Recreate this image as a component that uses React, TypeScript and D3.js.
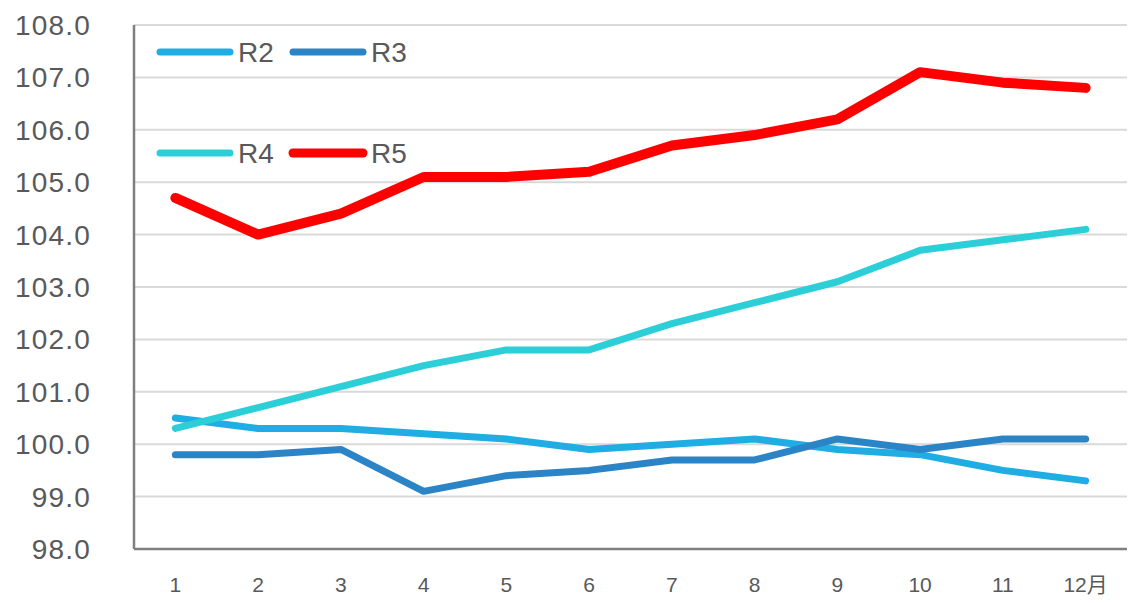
import { line, scaleBand, scaleLinear } from "d3"

const months = ["1", "2", "3", "4", "5", "6", "7", "8", "9", "10", "11", "12月"]
const yTicks = [98, 99, 100, 101, 102, 103, 104, 105, 106, 107, 108]

const r2 = [100.5, 100.3, 100.3, 100.2, 100.1, 99.9, 100.0, 100.1, 99.9, 99.8, 99.5, 99.3]
const r3 = [99.8, 99.8, 99.9, 99.1, 99.4, 99.5, 99.7, 99.7, 100.1, 99.9, 100.1, 100.1]
const r4 = [100.3, 100.7, 101.1, 101.5, 101.8, 101.8, 102.3, 102.7, 103.1, 103.7, 103.9, 104.1]
const r5 = [104.7, 104.0, 104.4, 105.1, 105.1, 105.2, 105.7, 105.9, 106.2, 107.1, 106.9, 106.8]

const series = [
    { name: "R2", values: r2, color: "#1fade3", width: 7 },
    { name: "R3", values: r3, color: "#2a84c6", width: 7 },
    { name: "R4", values: r4, color: "#2ccfd8", width: 7 },
    { name: "R5", values: r5, color: "#ff0000", width: 10 },
]

const W = 1131
const H = 603
const left = 134
const right = 1127
const top = 25
const bottom = 549

const App = () => {
    const x = scaleBand().domain(months).range([left, right])
    const y = scaleLinear().domain([98, 108]).range([bottom, top])
    const cx = (i) => x(months[i]) + x.bandwidth() / 2

    const path = line().x((d, i) => cx(i)).y(d => y(d))

    // legend: two rows of two entries, inside the plot's top-left corner
    const legendPos = [
        { lx: 160, ly: 52 },
        { lx: 293, ly: 52 },
        { lx: 160, ly: 153 },
        { lx: 293, ly: 153 },
    ]

    return (
        <svg width={W} height={H} style={{ position: "absolute", left: 0, top: 0, background: "#fff" }}
            fontFamily="'Liberation Sans', Arial, sans-serif">
            {yTicks.map(t => (
                <g key={t}>
                    {t > 98 && <line x1={left} x2={right} y1={y(t)} y2={y(t)} stroke="#d9d9d9" strokeWidth={2} />}
                    <text x={91} y={y(t)} dy="0.36em" textAnchor="end" fontSize={28} letterSpacing={1.2} fill="#595959">{t.toFixed(1)}</text>
                </g>
            ))}
            <line x1={left} x2={left} y1={top} y2={bottom} stroke="#7f7f7f" strokeWidth={2.5} />
            <line x1={left} x2={right} y1={bottom} y2={bottom} stroke="#7f7f7f" strokeWidth={2.5} />
            {months.map((m, i) => (
                <text key={m} x={cx(i)} y={584} dy="0.36em" textAnchor="middle" fontSize={21} fill="#595959"
                    fontFamily="'Liberation Sans', 'Noto Sans CJK SC', sans-serif">{m}</text>
            ))}
            {series.map(s => (
                <path key={s.name} d={path(s.values)} fill="none" stroke={s.color} strokeWidth={s.width}
                    strokeLinecap="round" strokeLinejoin="round" />
            ))}
            {series.map((s, i) => (
                <g key={s.name}>
                    <line x1={legendPos[i].lx} x2={legendPos[i].lx + 70} y1={legendPos[i].ly} y2={legendPos[i].ly}
                        stroke={s.color} strokeWidth={s.width === 10 ? 9 : 7} strokeLinecap="round" />
                    <text x={legendPos[i].lx + 78} y={legendPos[i].ly} dy="0.36em" fontSize={28} fill="#595959">{s.name}</text>
                </g>
            ))}
        </svg>
    )
}

export default App
